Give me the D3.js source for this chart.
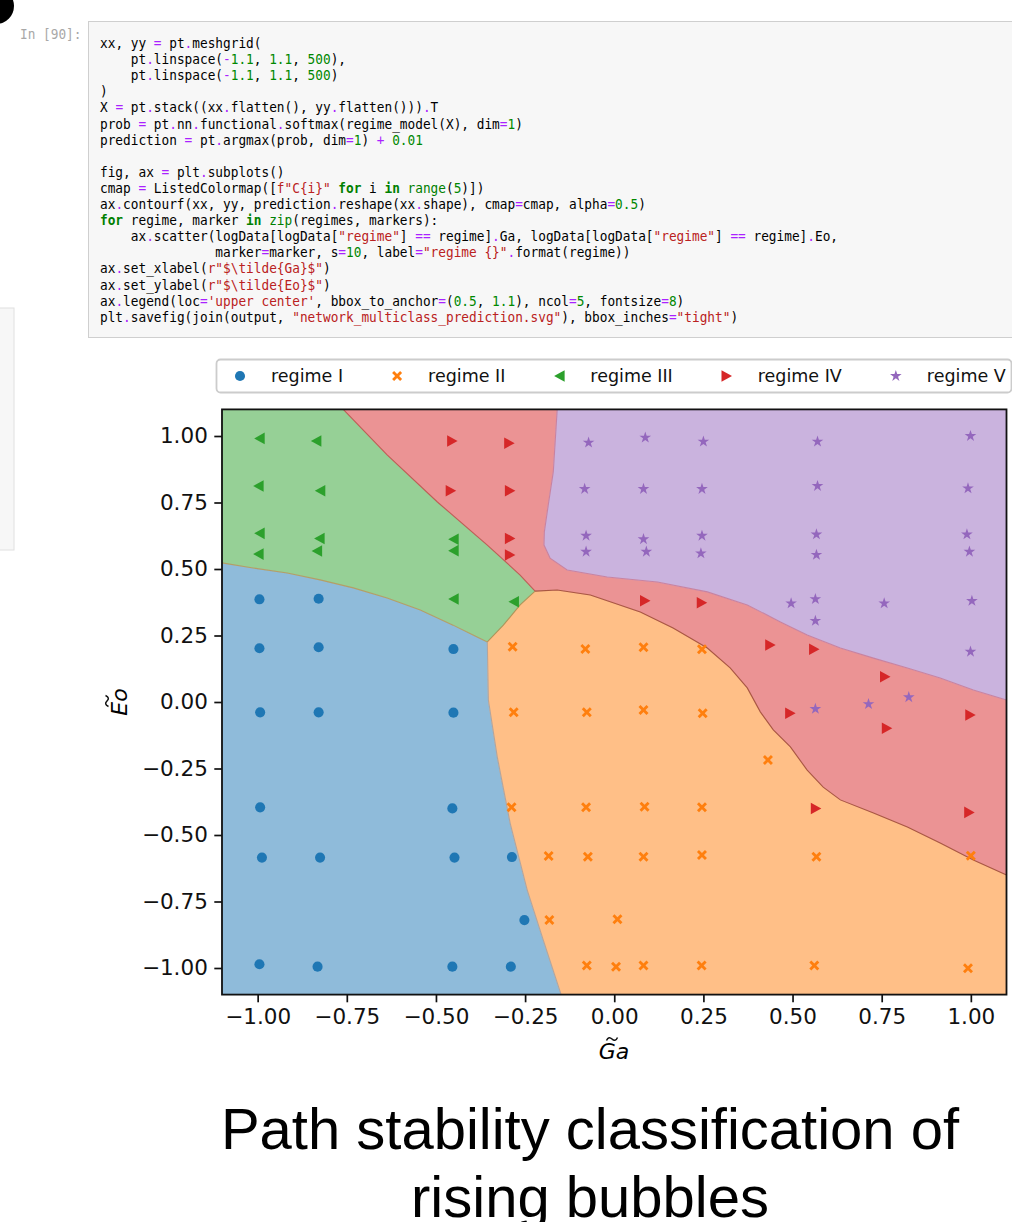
<!DOCTYPE html>
<html><head><meta charset="utf-8">
<script src="https://cdn.jsdelivr.net/npm/d3@7"></script>
<style>body{margin:0;background:#fff}svg{display:block}</style>
</head><body><svg id="c" width="1012" height="1222"></svg>
<script>
// ---------- text content ----------
const promptLabel = "In [90]:";
const codeLines = [
  'xx, yy = pt.meshgrid(',
  '    pt.linspace(-1.1, 1.1, 500),',
  '    pt.linspace(-1.1, 1.1, 500)',
  ')',
  'X = pt.stack((xx.flatten(), yy.flatten())).T',
  'prob = pt.nn.functional.softmax(regime_model(X), dim=1)',
  'prediction = pt.argmax(prob, dim=1) + 0.01',
  '',
  'fig, ax = plt.subplots()',
  'cmap = ListedColormap([f"C{i}" for i in range(5)])',
  'ax.contourf(xx, yy, prediction.reshape(xx.shape), cmap=cmap, alpha=0.5)',
  'for regime, marker in zip(regimes, markers):',
  '    ax.scatter(logData[logData["regime"] == regime].Ga, logData[logData["regime"] == regime].Eo,',
  '               marker=marker, s=10, label="regime {}".format(regime))',
  'ax.set_xlabel(r"$\\tilde{Ga}$")',
  'ax.set_ylabel(r"$\\tilde{Eo}$")',
  "ax.legend(loc='upper center', bbox_to_anchor=(0.5, 1.1), ncol=5, fontsize=8)",
  'plt.savefig(join(output, "network_multiclass_prediction.svg"), bbox_inches="tight")'
];
const titleLines = ["Path stability classification of", "rising bubbles"];
const regimeNames = ["regime I", "regime II", "regime III", "regime IV", "regime V"];
const xTicks = [-1, -0.75, -0.5, -0.25, 0, 0.25, 0.5, 0.75, 1];
const yTicks = [-1, -0.75, -0.5, -0.25, 0, 0.25, 0.5, 0.75, 1];

// ---------- scatter data [Ga, Eo] ----------
const regimeI = [[-0.995,0.386],[-0.829,0.388],[-0.995,0.202],[-0.829,0.206],[-0.451,0.199],
  [-0.993,-0.039],[-0.829,-0.039],[-0.451,-0.040],[-0.993,-0.396],[-0.454,-0.400],
  [-0.988,-0.585],[-0.825,-0.585],[-0.448,-0.585],[-0.287,-0.583],[-0.252,-0.820],
  [-0.995,-0.986],[-0.832,-0.995],[-0.454,-0.995],[-0.290,-0.995]];
const regimeII = [[-0.285,0.208],[-0.081,0.199],[0.082,0.206],[0.246,0.198],
  [-0.282,-0.039],[-0.077,-0.039],[0.082,-0.030],[0.248,-0.042],[0.431,-0.218],
  [-0.288,-0.396],[-0.079,-0.396],[0.085,-0.394],[0.246,-0.396],
  [-0.184,-0.579],[-0.074,-0.582],[0.082,-0.582],[0.246,-0.575],[0.567,-0.582],[1.0,-0.578],
  [-0.182,-0.820],[0.009,-0.817],
  [-0.077,-0.991],[0.005,-0.995],[0.082,-0.991],[0.245,-0.991],[0.561,-0.991],[0.992,-1.001]];
const regimeIII = [[-0.995,0.991],[-0.836,0.981],[-0.998,0.812],[-0.825,0.794],
  [-0.995,0.634],[-0.827,0.615],[-0.451,0.612],[-0.998,0.556],[-0.834,0.568],[-0.451,0.569],
  [-0.451,0.387],[-0.282,0.377]];
const regimeIV = [[-0.454,0.981],[-0.294,0.973],[-0.458,0.794],[-0.292,0.794],[-0.292,0.615],[-0.292,0.553],
  [0.087,0.381],[0.246,0.373],[0.438,0.214],[0.561,0.198],[0.760,0.095],[0.494,-0.042],
  [0.765,-0.099],[0.999,-0.049],[0.566,-0.400],[0.996,-0.415]];
const regimeV = [[-0.072,0.975],[0.087,0.994],[0.250,0.979],[0.570,0.979],[0.999,1.0],
  [-0.083,0.801],[0.082,0.801],[0.246,0.801],[0.570,0.812],[0.992,0.803],
  [-0.079,0.625],[0.082,0.612],[0.246,0.625],[0.567,0.630],[0.989,0.630],
  [-0.079,0.565],[0.090,0.565],[0.243,0.559],[0.567,0.553],[0.996,0.565],
  [0.496,0.371],[0.564,0.387],[0.757,0.371],[1.003,0.380],[0.564,0.305],[0.999,0.189],
  [0.564,-0.026],[0.713,-0.008],[0.826,0.018]];

// ---------- decision boundaries [Ga, Eo] ----------
const bndBlueGreen = [[-1.1,0.523],[-1.013,0.504],[-0.917,0.485],[-0.825,0.459],[-0.732,0.429],
  [-0.637,0.391],[-0.544,0.346],[-0.452,0.289],[-0.396,0.252],[-0.356,0.226]];
const bndGreenRed = [[-0.760,1.1],[-0.637,0.929],[-0.496,0.752],[-0.356,0.590],[-0.264,0.477],[-0.222,0.417]];
const bndGreenOrange = [[-0.222,0.417],[-0.264,0.365],[-0.311,0.289],[-0.356,0.226]];
const bndBlueOrange = [[-0.356,0.226],[-0.353,0.0075],[-0.328,-0.207],[-0.292,-0.455],
  [-0.244,-0.707],[-0.199,-0.895],[-0.149,-1.1]];
const bndRedPurple = [[-0.160,1.1],[-0.171,0.865],[-0.185,0.741],[-0.196,0.640],[-0.197,0.590],
  [-0.180,0.541],[-0.132,0.496],[-0.020,0.470],[0.121,0.451],[0.261,0.414],[0.373,0.365],
  [0.466,0.301],[0.541,0.252],[0.634,0.203],[0.727,0.165],[0.822,0.128],[0.914,0.090],
  [1.007,0.045],[1.1,0.0075]];
const bndOrangeRed = [[-0.222,0.417],[-0.160,0.421],[-0.067,0.402],[0.073,0.338],[0.165,0.278],
  [0.261,0.203],[0.325,0.128],[0.373,0.053],[0.410,-0.038],[0.446,-0.105],[0.494,-0.169],
  [0.541,-0.256],[0.586,-0.320],[0.634,-0.368],[0.727,-0.417],[0.822,-0.470],[0.914,-0.530],
  [1.007,-0.594],[1.1,-0.650]];

// ---------- drawing ----------
const svg = d3.select("#c");
const C = ["#1f77b4", "#ff7f0e", "#2ca02c", "#d62728", "#9467bd"];
const fillC = C.map(c => { const r = d3.rgb(c); return d3.rgb((r.r+255)/2, (r.g+255)/2, (r.b+255)/2).formatHex(); });

// notebook decorations
svg.append("circle").attr("cx", -4).attr("cy", 6).attr("r", 18).attr("fill", "#000");
svg.append("rect").attr("x", -2).attr("y", 308).attr("width", 16).attr("height", 242)
  .attr("fill", "#f7f7f7").attr("stroke", "#e0e0e0");
svg.append("rect").attr("x", 88.5).attr("y", 21.5).attr("width", 940).attr("height", 316)
  .attr("fill", "#f7f7f7").attr("stroke", "#cfcfcf");
const monoScale = 0.913;
svg.append("text").attr("transform", `translate(20,39) scale(${monoScale},1)`).text(promptLabel)
  .attr("font-family", "DejaVu Sans Mono").attr("font-size", 14).attr("fill", "#a8a8a8")
  .style("white-space", "pre");

const tokRe = /([rf]?"[^"]*"|'[^']*')|(\d+\.?\d*)|\b(for|in)\b|\b(range|zip)\b|([=+.\-*]+)|([A-Za-z_]\w*)|(\s+)|(.)/g;
codeLines.forEach((line, i) => {
  const t = svg.append("text").attr("transform", `translate(100,${48 + i * 16.1}) scale(${monoScale},1)`)
    .attr("font-family", "DejaVu Sans Mono").attr("font-size", 14)
    .style("white-space", "pre");
  let m; tokRe.lastIndex = 0;
  while ((m = tokRe.exec(line)) !== null) {
    let col = "#000", bold = false;
    if (m[1]) col = "#BA2121";
    else if (m[2]) col = "#008800";
    else if (m[3]) { col = "#008000"; bold = true; }
    else if (m[4]) col = "#008000";
    else if (m[5]) { col = "#AA22FF"; }
    t.append("tspan").text(m[0]).attr("fill", col).attr("font-weight", bold ? "bold" : null);
  }
});

// chart
const x = d3.scaleLinear().domain([-1.1, 1.1]).range([222, 1006.5]);
const y = d3.scaleLinear().domain([-1.1, 1.1]).range([994.6, 409.4]);
const rev = a => a.slice().reverse();
const regions = [
  { k: 0, pts: [...bndBlueGreen, ...bndBlueOrange.slice(1), [-1.1, -1.1]] },
  { k: 1, pts: [...rev(bndGreenOrange), ...bndOrangeRed.slice(1), [1.1, -1.1], ...rev(bndBlueOrange).slice(0, -1)] },
  { k: 2, pts: [[-1.1, 1.1], ...bndGreenRed, ...bndGreenOrange.slice(1), ...rev(bndBlueGreen).slice(1)] },
  { k: 3, pts: [...bndRedPurple, ...rev(bndOrangeRed), ...rev(bndGreenRed).slice(1)] },
  { k: 4, pts: [...bndRedPurple, [1.1, 1.1]] }
];
const line = d3.line().x(d => x(d[0])).y(d => y(d[1]));
const gPlot = svg.append("g");
gPlot.selectAll("path.region").data(regions).join("path").attr("class", "region")
  .attr("d", d => line(d.pts) + "Z").attr("fill", d => fillC[d.k])
  .attr("stroke", d => fillC[d.k]).attr("stroke-width", 0.6);
const seams = [
  { pts: bndBlueGreen, c: "#b9945e" }, { pts: bndGreenRed, c: "#b5524a" },
  { pts: bndGreenOrange, c: "#b08a4e" }, { pts: bndBlueOrange, c: "#a7a0a0" },
  { pts: bndRedPurple, c: "#c77a98" }, { pts: bndOrangeRed, c: "#9c4a32" }
];
gPlot.selectAll("path.seam").data(seams).join("path").attr("class", "seam")
  .attr("d", d => line(d.pts)).attr("fill", "none").attr("stroke", d => d.c)
  .attr("stroke-width", 1.1).attr("stroke-opacity", 0.85);

// marker shapes
const triLeft = { draw(ctx, s) { const h = s; ctx.moveTo(-h * 0.5, 0); ctx.lineTo(h * 0.5, -h * 0.55); ctx.lineTo(h * 0.5, h * 0.55); ctx.closePath(); } };
const triRight = { draw(ctx, s) { const h = s; ctx.moveTo(h * 0.5, 0); ctx.lineTo(-h * 0.5, -h * 0.55); ctx.lineTo(-h * 0.5, h * 0.55); ctx.closePath(); } };
const xMark = { draw(ctx, s) { const a = s / 2, w = s * 0.2;
  const pts = [[w,0],[a,a-w],[a-w,a],[0,w],[-a+w,a],[-a,a-w],[-w,0],[-a,-a+w],[-a+w,-a],[0,-w],[a-w,-a],[a,-a+w]];
  ctx.moveTo(pts[0][0], pts[0][1]); pts.slice(1).forEach(p => ctx.lineTo(p[0], p[1])); ctx.closePath(); } };
const markerDefs = [
  d3.symbol().type(d3.symbolCircle).size(80)(),
  d3.symbol().type(xMark).size(10)(),
  d3.symbol().type(triLeft).size(10.5)(),
  d3.symbol().type(triRight).size(10.5)(),
  d3.symbol().type(d3.symbolStar).size(42)()
];
const regimesData = [regimeI, regimeII, regimeIII, regimeIV, regimeV];
regimesData.forEach((pts, k) => {
  gPlot.append("g").selectAll("path").data(pts).join("path")
    .attr("transform", d => `translate(${x(d[0])},${y(d[1])})`)
    .attr("d", markerDefs[k]).attr("fill", C[k]);
});

// frame & axes
svg.append("rect").attr("x", x(-1.1)).attr("y", y(1.1)).attr("width", x(1.1) - x(-1.1))
  .attr("height", y(-1.1) - y(1.1)).attr("fill", "none").attr("stroke", "#111").attr("stroke-width", 1.8);
const fmt = d3.format(".2f");
const gx = svg.append("g").attr("transform", `translate(0,${y(-1.1)})`)
  .call(d3.axisBottom(x).tickValues(xTicks).tickFormat(fmt).tickSize(7.7).tickPadding(6.5));
const gy = svg.append("g").attr("transform", `translate(${x(-1.1)},0)`)
  .call(d3.axisLeft(y).tickValues(yTicks).tickFormat(fmt).tickSize(7.7).tickPadding(6.5));
[gx, gy].forEach(g => {
  g.select(".domain").remove();
  g.selectAll(".tick line").attr("stroke", "#111").attr("stroke-width", 1.7);
  g.selectAll(".tick text").attr("font-family", "DejaVu Sans").attr("font-size", 21.5).attr("fill", "#111");
});

// axis labels (tilde accent drawn as a small path)
const tildePath = "M-5.5,1.5 C-4,-2 -2,-2 0,0 S4,2 5.5,-1.5";
svg.append("text").attr("x", 614).attr("y", 1059).attr("text-anchor", "middle")
  .attr("font-family", "DejaVu Sans").attr("font-style", "italic").attr("font-size", 22).text("Ga");
svg.append("path").attr("d", tildePath).attr("transform", "translate(612,1039)")
  .attr("fill", "none").attr("stroke", "#111").attr("stroke-width", 1.5);
const yl = svg.append("g").attr("transform", "translate(127,702) rotate(-90)");
yl.append("text").attr("x", 0).attr("y", 0).attr("text-anchor", "middle")
  .attr("font-family", "DejaVu Sans").attr("font-style", "italic").attr("font-size", 22).text("Eo");
yl.append("path").attr("d", tildePath).attr("transform", "translate(1,-20)")
  .attr("fill", "none").attr("stroke", "#111").attr("stroke-width", 1.5);

// legend
svg.append("rect").attr("x", 216.5).attr("y", 359.5).attr("width", 795).attr("height", 33).attr("rx", 4)
  .attr("fill", "#fff").attr("fill-opacity", 0.8).attr("stroke", "#cccccc").attr("stroke-width", 1.8);
let mx = 240;
regimeNames.forEach((name, k) => {
  svg.append("path").attr("transform", `translate(${mx},376)`).attr("d", markerDefs[k]).attr("fill", C[k]);
  const t = svg.append("text").attr("x", mx + 31).attr("y", 376).attr("dy", "0.35em")
    .attr("font-family", "DejaVu Sans").attr("font-size", 17.5).attr("fill", "#111").text(name);
  mx = mx + 31 + t.node().getComputedTextLength() + 54;
});

// title
titleLines.forEach((s, i) => {
  svg.append("text").attr("x", 590).attr("y", 1149 + i * 68).attr("text-anchor", "middle")
    .attr("font-family", "Liberation Sans, Arial, sans-serif").attr("font-size", 58).attr("fill", "#000").text(s);
});
</script></body></html>
